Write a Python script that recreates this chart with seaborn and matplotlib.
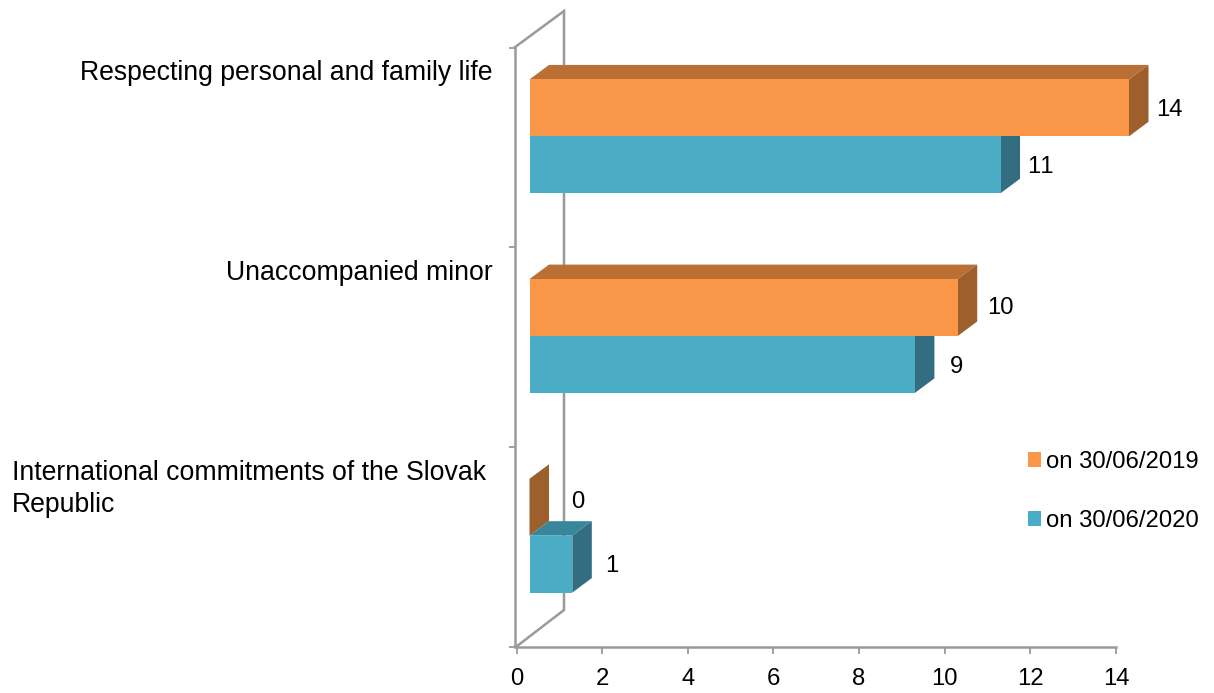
import matplotlib
matplotlib.use("Agg")
import matplotlib.pyplot as plt
from matplotlib.patches import Polygon, Patch
import pandas as pd
import seaborn as sns

categories = ["Respecting personal and family life",
              "Unaccompanied minor",
              "International commitments of the Slovak\nRepublic"]
series_names = ["on 30/06/2019", "on 30/06/2020"]
values_2019 = [14, 10, 0]
values_2020 = [11, 9, 1]
x_ticks = [0, 2, 4, 6, 8, 10, 12, 14]

front_colors = ["#F99647", "#4BACC6"]
top_colors = ["#BA7035", "#38869B"]
side_colors = ["#9D602C", "#336E80"]
axis_color = "#9A9A9A"

W, H = 1214, 693
PX_X = 599.5 / 14   # pixels per x unit
PX_Y = 199.67       # pixels per category

df = pd.DataFrame({
    "reason": categories * 2,
    "period": [series_names[0]] * 3 + [series_names[1]] * 3,
    "count": values_2019 + values_2020,
})

sns.set_theme(style="white")
plt.rcParams["font.family"] = ["Liberation Sans", "DejaVu Sans"]
plt.rcParams["text.kerning_factor"] = 12

fig = plt.figure(figsize=(W / 100, H / 100), dpi=100)
ax = fig.add_axes([516.5 / W, 1 - 646.5 / H, 599.5 / W, 599 / H])

sns.barplot(data=df, y="reason", x="count", hue="period", order=categories,
            hue_order=series_names, palette=front_colors, width=0.57, gap=0,
            saturation=1, orient="y", legend=False, ax=ax, zorder=3)

ax.set_xlim(0, 14)
ax.set_ylim(2.5, -0.5)

# the fake 3d look: shift the front faces, then add top and side faces
shift_x = 13 / PX_X
shift_y = 11 / PX_Y
depth_x = 19.5 / PX_X
depth_y = 14.5 / PX_Y

for k, container in enumerate(ax.containers):
    for bar in container:
        bar.set_x(shift_x)
        bar.set_y(bar.get_y() - shift_y)
        bar.set_linewidth(0)
        bar.set_clip_on(False)
        x0 = bar.get_x()
        x1 = x0 + bar.get_width()
        y0 = bar.get_y()
        y1 = y0 + bar.get_height()
        top = [(x0, y0), (x1, y0), (x1 + depth_x, y0 - depth_y), (x0 + depth_x, y0 - depth_y)]
        side = [(x1, y0), (x1, y1), (x1 + depth_x, y1 - depth_y), (x1 + depth_x, y0 - depth_y)]
        ax.add_patch(Polygon(top, closed=True, fc=top_colors[k], ec="none", zorder=2, clip_on=False))
        ax.add_patch(Polygon(side, closed=True, fc=side_colors[k], ec="none", zorder=2, clip_on=False))

# back wall
wall_x = 47.5 / PX_X
wall_y = 36.5 / PX_Y
ax.plot([-2 / PX_X, wall_x, wall_x, 0],
        [-0.5, -0.5 - wall_y, 2.5 - wall_y, 2.5],
        color=axis_color, lw=1.8, clip_on=False, zorder=1, solid_joinstyle="miter")

# value labels, pixel nudges from the bar end
label_nudge = [[40, 43, 48], [40, 42, 39]]
label_lift = [[0, 2, 8], [0, 0, 1]]
for k, (container, vals) in enumerate(zip(ax.containers, [values_2019, values_2020])):
    for i, (bar, v) in enumerate(zip(container, vals)):
        ax.annotate(str(v),
                    xy=(bar.get_x() + bar.get_width(), bar.get_y() + bar.get_height() / 2),
                    xytext=(label_nudge[k][i], label_lift[k][i]),
                    textcoords="offset pixels", ha="center", va="center_baseline",
                    fontsize=17.2, color="black", zorder=5, annotation_clip=False)

# category labels sit in the upper part of each band, not on a tick
label_right = [493, 493, 486]
for i, name in enumerate(categories):
    ax.annotate(name, xy=(0, i), xytext=(label_right[i] - 516.5, 87),
                textcoords="offset pixels", ha="right", va="top", multialignment="left",
                fontsize=19.2, color="black", linespacing=1.34, annotation_clip=False)

ax.set_xticks(x_ticks)
ax.set_yticks([-0.5, 0.5, 1.5, 2.5])
ax.set_yticklabels([])
ax.set_xlabel("")
ax.set_ylabel("")
ax.tick_params(axis="x", length=4.7, width=1.3, color=axis_color, pad=10.5,
               labelsize=17.2, labelcolor="black", bottom=True)
ax.tick_params(axis="y", length=4.3, width=1.3, color=axis_color, left=True)

sns.despine(ax=ax)
for name in ["left", "bottom"]:
    ax.spines[name].set_color(axis_color)
    ax.spines[name].set_linewidth(1.8)
ax.spines["left"].set_position(("outward", 1.4))
ax.patch.set_alpha(0)

handles = [Patch(fc=c, ec="none", label=n) for c, n in zip(front_colors, series_names)]
fig.legend(handles=handles, loc="upper left", bbox_to_anchor=(1028 / W, 1 - 451 / H),
           frameon=False, fontsize=17.2, handlelength=0.54, handleheight=0.54,
           handletextpad=0.2, labelspacing=1.55, borderpad=0, borderaxespad=0,
           labelcolor="black")

fig.savefig("out.png", dpi=100)
